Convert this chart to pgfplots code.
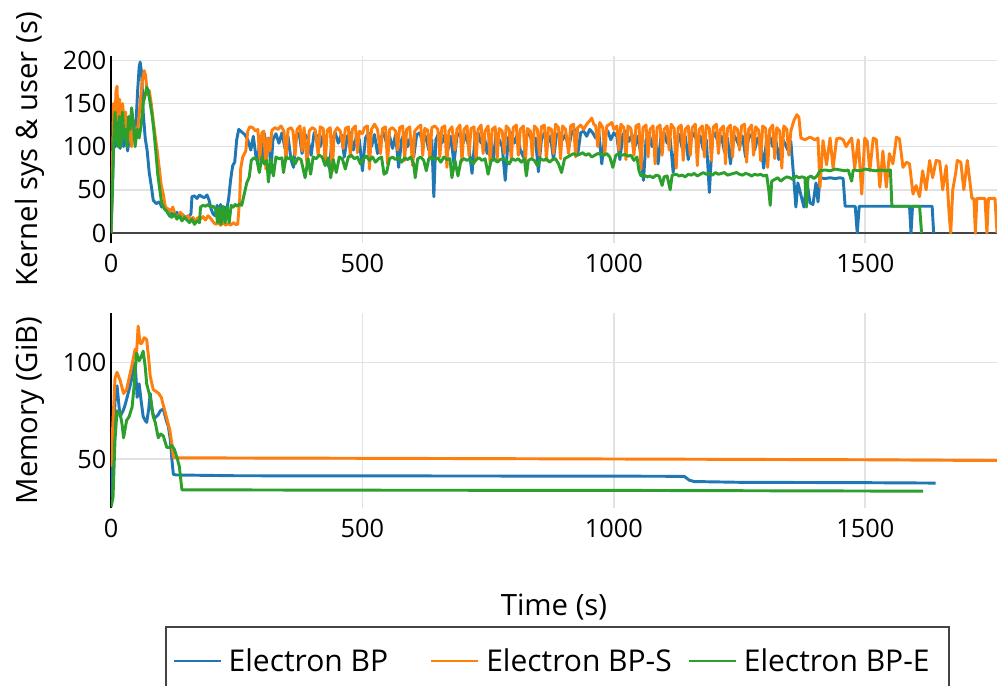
\documentclass[border=0pt]{standalone}
\usepackage{fontspec}
\setmainfont{Open Sans}
\usepackage{pgfplots}
\pgfplotsset{compat=1.18}

\definecolor{cBP}{HTML}{1F77B4}
\definecolor{cBPS}{HTML}{FF7F0E}
\definecolor{cBPE}{HTML}{2CA02C}
\definecolor{gridc}{HTML}{E2E2E2}
\definecolor{zeroc}{HTML}{444444}

\pgfplotsset{
  panel/.style={
    scale only axis, width=664.5pt,
    xmin=0, xmax=1762,
    xtick={0,500,1000,1500},
    axis x line*=bottom, axis y line*=left,
    x axis line style={draw=none},
    y axis line style={black, line width=1.4pt},
    major tick length=0pt,
    grid=major, major grid style={gridc, line width=1.2pt},
    tick label style={font=\fontsize{19}{21}\selectfont},
    xticklabel style={yshift=-4.5pt},
    label style={font=\fontsize{22}{25}\selectfont},
    /pgf/number format/assume math mode=true,
    /pgf/number format/1000 sep={},
    every axis plot/.append style={line width=2.2pt, line join=round},
    clip=true,
  }
}

\begin{document}
\begin{tikzpicture}
\path[use as bounding box] (0,0) rectangle (747.75pt,514.5pt);

% ---- CPU time per sample ----
\begin{axis}[panel, at={(83.25pt,332.25pt)}, anchor=south west,
  height=140.25pt, ymin=-11.6, ymax=205, ytick={0,50,100,150,200},
  ylabel={Kernel sys \& user (s)},
  ylabel style={at={(axis description cs:-0.0914,0.5)}, anchor=center}]
\draw[zeroc, line width=1.2pt] (axis cs:0,0) -- (axis cs:1762,0);
% Electron BP
\addplot[cBP] coordinates {(0,0)(3,60)(6,115)(9,100)(12,130)(15,105)(18,98)(22,125)(25,100)(29,118)(33,95)(37,112)(41,104)(45,130)(49,118)(53,165)(56,192)(58,198)(61,185)(64,140)(68,110)(72,95)(76,70)(80,55)(84,38)(90,34)(96,36)(101,30)(106,33)(111,26)(116,27)(121,22)(126,20)(131,24)(136,18)(141,22)(146,19)(151,18)(156,20)(159,22)(161,42)(166,43)(171,40)(176,44)(181,42)(186,41)(191,44)(195,38)(199,28)(203,22)(207,20)(211,32)(214,18)(218,33)(222,20)(226,30)(230,26)(234,40)(238,62)(242,78)(246,82)(250,108)(254,120)(260,117)(266,114)(272,108)(278,96)(283,112)(288,90)(292,81)(296,112)(301,84)(305,115)(310,96)(314,110)(318,70)(322,108)(328,115)(334,104)(340,116)(346,98)(352,112)(358,85)(363,76)(368,110)(374,116)(380,92)(386,114)(392,108)(398,90)(404,116)(410,112)(416,100)(422,114)(428,84)(434,76)(440,108)(446,116)(452,104)(458,114)(464,88)(470,112)(476,116)(482,96)(488,112)(494,108)(500,72)(506,110)(512,116)(518,100)(524,114)(530,92)(536,110)(542,116)(548,104)(554,112)(560,98)(566,114)(572,76)(578,108)(584,116)(590,100)(596,112)(602,88)(608,114)(614,116)(620,104)(626,112)(632,96)(638,108)(642,42)(646,108)(652,116)(658,104)(664,114)(670,96)(676,112)(682,80)(688,112)(694,116)(700,104)(706,114)(712,98)(718,69)(724,110)(730,116)(736,104)(742,114)(748,92)(754,112)(760,84)(766,116)(772,108)(778,100)(784,61)(790,110)(796,116)(802,104)(808,114)(814,96)(820,88)(826,112)(832,116)(838,104)(844,110)(850,71)(856,108)(862,116)(868,104)(874,112)(880,85)(886,114)(892,116)(898,108)(904,114)(910,98)(916,116)(922,120)(928,90)(934,116)(940,118)(946,112)(952,120)(958,116)(964,110)(970,118)(976,80)(982,114)(988,118)(994,108)(1000,116)(1006,112)(1012,85)(1018,114)(1024,118)(1030,106)(1036,114)(1042,100)(1048,112)(1054,90)(1059,61)(1064,108)(1070,116)(1076,100)(1082,112)(1088,80)(1094,114)(1100,116)(1106,104)(1112,110)(1118,70)(1124,108)(1130,114)(1136,98)(1142,112)(1148,85)(1154,110)(1160,116)(1166,104)(1172,112)(1178,96)(1184,108)(1190,47)(1196,110)(1202,116)(1208,102)(1214,112)(1220,94)(1226,110)(1232,80)(1238,114)(1244,108)(1250,100)(1256,112)(1262,88)(1268,110)(1274,114)(1280,96)(1286,110)(1292,104)(1298,75)(1304,110)(1310,112)(1316,100)(1322,108)(1328,85)(1334,110)(1340,104)(1346,96)(1352,106)(1358,62)(1362,30)(1366,58)(1372,44)(1378,30)(1384,60)(1390,35)(1396,33)(1402,58)(1406,36)(1410,64)(1420,63)(1430,64)(1440,63)(1450,64)(1456,63)(1460,31)(1470,31)(1480,31)(1484,0)(1488,31)(1500,31)(1520,31)(1540,31)(1560,31)(1580,31)(1588,31)(1591,0)(1594,31)(1610,31)(1625,31)(1633,31)(1636,0)};
% Electron BP-S
\addplot[cBPS] coordinates {(0,0)(3,80)(5,150)(8,130)(10,165)(12,170)(14,130)(17,155)(20,120)(23,150)(26,130)(29,140)(32,105)(35,128)(38,112)(41,100)(44,130)(47,118)(50,112)(54,125)(58,150)(62,175)(66,188)(69,182)(72,160)(76,165)(80,150)(84,130)(88,112)(92,95)(96,75)(100,55)(104,45)(108,30)(113,28)(118,25)(123,30)(128,20)(133,18)(138,24)(143,20)(148,17)(153,20)(158,15)(163,18)(168,14)(173,18)(178,16)(183,19)(188,15)(193,20)(198,17)(203,13)(208,10)(213,12)(218,9)(223,12)(228,9)(233,11)(238,9)(243,12)(248,10)(252,10)(256,40)(258,75)(262,88)(268,95)(272,118)(276,123)(282,122)(288,118)(292,120)(296,86)(300,116)(304,118)(308,74)(312,110)(316,95)(320,119)(326,122)(332,120)(338,124)(344,118)(348,84)(352,120)(358,122)(362,118)(366,90)(370,120)(376,124)(380,95)(384,122)(390,78)(394,118)(400,122)(406,120)(412,90)(416,123)(422,121)(426,80)(430,119)(436,122)(440,71)(444,116)(450,122)(456,118)(462,98)(466,121)(472,123)(476,88)(480,120)(486,124)(490,93)(494,118)(500,115)(504,122)(510,124)(514,74)(518,120)(524,126)(530,120)(536,92)(540,121)(546,123)(550,80)(554,120)(560,122)(566,118)(570,96)(574,122)(580,124)(584,84)(588,120)(594,123)(600,78)(604,118)(610,122)(616,125)(620,90)(624,121)(630,119)(634,85)(638,122)(644,124)(650,120)(654,88)(658,122)(664,124)(668,76)(672,118)(678,123)(684,96)(688,120)(694,125)(698,83)(702,120)(708,124)(712,90)(716,121)(722,123)(726,84)(730,120)(736,125)(740,92)(744,118)(750,124)(754,80)(758,120)(764,123)(768,86)(772,121)(778,118)(782,92)(786,124)(792,120)(796,84)(800,122)(806,125)(810,90)(814,120)(820,124)(824,82)(828,121)(834,118)(838,88)(842,124)(848,120)(852,90)(856,123)(862,125)(866,84)(870,122)(876,120)(880,92)(884,126)(890,122)(894,86)(898,124)(904,120)(910,92)(914,124)(920,126)(924,88)(928,122)(934,125)(940,120)(946,126)(952,130)(956,133)(960,126)(964,124)(968,100)(972,128)(978,122)(982,92)(986,124)(992,126)(996,128)(1000,120)(1006,124)(1010,96)(1014,126)(1020,122)(1024,85)(1028,124)(1034,121)(1040,90)(1044,124)(1050,126)(1054,74)(1058,122)(1064,125)(1068,88)(1072,120)(1078,124)(1082,80)(1086,122)(1092,125)(1096,90)(1100,120)(1106,124)(1110,96)(1114,126)(1120,121)(1124,75)(1128,122)(1134,125)(1138,84)(1142,120)(1148,124)(1152,90)(1156,122)(1162,126)(1166,78)(1170,120)(1176,124)(1180,88)(1184,125)(1190,121)(1194,84)(1198,123)(1204,126)(1208,92)(1212,120)(1218,124)(1222,80)(1226,121)(1232,125)(1236,88)(1240,123)(1246,120)(1250,96)(1254,124)(1260,126)(1264,82)(1268,120)(1274,125)(1278,90)(1282,123)(1288,119)(1292,84)(1296,124)(1302,121)(1306,76)(1310,120)(1316,125)(1320,86)(1324,122)(1330,118)(1334,75)(1338,124)(1344,120)(1348,90)(1352,118)(1358,130)(1364,137)(1368,134)(1372,110)(1380,108)(1390,111)(1400,108)(1406,110)(1410,53)(1416,107)(1423,79)(1430,110)(1436,75)(1443,109)(1450,110)(1456,108)(1462,100)(1468,106)(1473,110)(1479,75)(1486,108)(1493,45)(1499,110)(1504,106)(1509,72)(1516,110)(1522,108)(1529,53)(1535,95)(1542,53)(1548,92)(1555,80)(1562,111)(1568,109)(1575,76)(1582,82)(1588,80)(1595,45)(1601,55)(1608,42)(1614,72)(1621,50)(1628,84)(1634,64)(1641,84)(1648,83)(1654,50)(1661,78)(1667,20)(1670,0)(1674,50)(1680,70)(1683,84)(1690,82)(1696,50)(1703,84)(1708,60)(1712,40)(1716,40)(1719,0)(1722,40)(1738,40)(1742,0)(1745,40)(1758,40)(1762,0)};
% Electron BP-E
\addplot[cBPE] coordinates {(0,0)(3,50)(5,100)(8,140)(11,110)(14,100)(17,135)(20,100)(23,140)(26,110)(29,120)(32,100)(35,135)(38,120)(41,145)(44,130)(48,100)(52,120)(56,110)(60,125)(64,150)(68,160)(71,169)(74,165)(78,150)(82,135)(85,120)(89,95)(93,68)(97,50)(101,34)(106,28)(111,25)(116,20)(121,18)(126,22)(131,16)(136,20)(141,14)(146,18)(151,15)(156,12)(161,16)(166,10)(171,14)(176,12)(178,30)(183,32)(188,31)(193,33)(198,30)(203,31)(208,28)(212,12)(215,30)(219,10)(223,31)(227,12)(231,30)(235,12)(239,32)(243,30)(247,33)(251,31)(256,34)(260,32)(265,45)(270,58)(275,65)(279,84)(284,87)(290,85)(295,70)(300,88)(305,80)(310,84)(313,59)(318,85)(323,66)(328,88)(334,86)(340,87)(343,70)(348,88)(354,86)(360,88)(366,80)(372,87)(378,85)(386,64)(392,86)(397,68)(402,88)(408,86)(414,90)(420,88)(426,78)(432,87)(437,64)(442,85)(448,70)(454,88)(460,86)(466,74)(472,88)(478,90)(484,86)(490,88)(496,80)(502,86)(508,89)(514,84)(520,88)(526,82)(532,86)(538,88)(543,68)(548,70)(554,86)(560,88)(566,85)(572,88)(578,82)(584,87)(590,85)(596,88)(602,80)(605,64)(610,86)(616,88)(622,84)(627,72)(632,86)(638,88)(644,85)(650,87)(656,82)(662,88)(668,85)(674,86)(678,64)(684,84)(690,66)(696,84)(702,86)(708,84)(714,86)(720,80)(726,85)(732,87)(738,84)(744,86)(750,68)(756,84)(762,86)(768,82)(774,85)(780,86)(786,84)(792,80)(798,86)(804,84)(810,86)(816,82)(822,86)(826,66)(830,84)(836,86)(842,84)(848,78)(854,86)(860,84)(866,86)(872,82)(878,85)(884,86)(890,80)(896,70)(902,86)(908,88)(914,90)(920,92)(926,90)(932,91)(938,93)(944,90)(950,92)(956,88)(962,90)(968,92)(974,91)(980,90)(986,92)(992,88)(998,76)(1004,90)(1010,92)(1016,90)(1022,91)(1028,89)(1034,90)(1040,84)(1046,88)(1050,72)(1054,66)(1060,67)(1066,65)(1072,66)(1078,64)(1084,67)(1090,66)(1096,55)(1100,65)(1106,66)(1112,50)(1116,67)(1124,68)(1130,66)(1136,67)(1142,65)(1148,68)(1154,67)(1160,69)(1166,66)(1172,68)(1178,70)(1184,68)(1190,69)(1196,67)(1202,70)(1208,68)(1214,69)(1220,70)(1226,67)(1232,68)(1238,69)(1244,70)(1250,68)(1256,67)(1262,69)(1268,68)(1274,66)(1280,68)(1286,67)(1292,68)(1298,66)(1304,67)(1308,50)(1311,32)(1314,60)(1320,62)(1326,64)(1332,60)(1338,63)(1344,65)(1350,64)(1356,62)(1362,66)(1368,64)(1374,65)(1380,64)(1383,30)(1386,64)(1392,66)(1398,63)(1404,66)(1410,72)(1420,73)(1430,72)(1440,74)(1450,73)(1460,72)(1466,73)(1473,60)(1476,73)(1490,72)(1500,74)(1510,73)(1520,72)(1530,73)(1540,72)(1550,73)(1553,31)(1570,31)(1590,31)(1605,31)(1608,31)(1612,0)};
\end{axis}

% ---- memory use ----
\begin{axis}[panel, at={(83.25pt,133.5pt)}, anchor=south west,
  height=146.25pt, ymin=24.56, ymax=125.8, ytick={50,100},
  ylabel={Memory (GiB)},
  ylabel style={at={(axis description cs:-0.0914,0.5)}, anchor=center},
  xlabel={Time (s)},
  xlabel style={at={(axis description cs:0.5,-0.507)}, anchor=center},
  legend columns=3,
  legend image code/.code={\draw[#1] (0pt,0pt) -- (35pt,0pt);},
  legend style={at={(0.0609,-0.6075)}, anchor=north west,
    draw=zeroc, line width=1.2pt, inner xsep=5pt, inner ysep=14pt,
    font=\fontsize{22.5}{25}\selectfont,
    /tikz/every even column/.append style={column sep=12pt}}]
\addplot[cBP] coordinates {(0,30)(4,55)(8,80)(12,88)(18,72)(24,75)(28,78)(34,84)(38,88)(44,95)(48,100)(52,82)(56,89)(60,80)(64,72)(68,70)(71,69)(75,76)(78,84)(82,75)(86,71)(90,72)(94,73)(98,75)(104,76)(110,70)(114,67)(118,60)(121,50)(124,42)(130,41.7)(250,41.3)(600,41.2)(1000,41.1)(1140,41.0)(1150,39)(1160,38.3)(1250,37.9)(1504,37.7)(1640,37.5)};
\addlegendentry{\makebox[140pt][l]{\hspace{3pt}Electron BP}}
\addplot[cBPS] coordinates {(0,46)(4,70)(8,92)(12,95)(18,91)(25,84)(31,86)(36,92)(42,99)(48,107)(51,106)(54,119)(58,110)(61,110)(66,113)(71,112)(75,102)(78,93)(84,86)(90,85)(95,84)(100,82)(107,75)(112,70)(117,65)(121,58)(124,51)(130,50.6)(600,50.3)(1000,50)(1500,49.6)(1762,49.2)};
\addlegendentry{\makebox[140pt][l]{\hspace{3pt}Electron BP-S}}
\addplot[cBPE] coordinates {(0,25)(4,30)(8,60)(12,75)(18,74)(22,68)(25,61)(31,70)(36,72)(42,77)(46,88)(51,105)(56,101)(60,103)(64,106)(68,98)(71,89)(76,84)(80,79)(84,72)(88,69)(94,61)(99,63)(104,62)(111,56)(116,56)(121,57)(126,55)(131,51)(136,46)(141,34)(500,33.8)(1000,33.7)(1615,33.3)};
\addlegendentry{\makebox[150pt][l]{\hspace{3pt}Electron BP-E}}
\end{axis}
\end{tikzpicture}
\end{document}
